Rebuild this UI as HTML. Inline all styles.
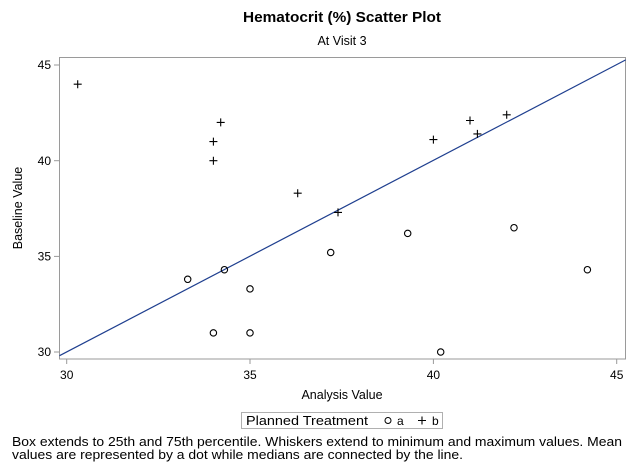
<!DOCTYPE html>
<html><head><meta charset="utf-8"><style>
body{margin:0;background:#fff;}
svg{display:block;font-family:"Liberation Sans","DejaVu Sans",sans-serif;}
</style></head><body>
<svg width="635" height="472" viewBox="0 0 635 472">
<rect width="635" height="472" fill="#fff"/>
<text x="342" y="22" font-size="14.5" text-anchor="middle" font-weight="bold" fill="#000" textLength="198" lengthAdjust="spacingAndGlyphs">Hematocrit (%) Scatter Plot</text>
<text x="342" y="45" font-size="12.5" text-anchor="middle" fill="#000">At Visit 3</text>
<rect x="59.5" y="57.5" width="566" height="301.5" fill="none" stroke="#9a9a9a" stroke-width="1"/>
<g stroke="#9a9a9a" stroke-width="1">
<line x1="54" y1="65" x2="59.5" y2="65"/><line x1="54" y1="160.7" x2="59.5" y2="160.7"/><line x1="54" y1="256.4" x2="59.5" y2="256.4"/><line x1="54" y1="352" x2="59.5" y2="352"/>
<line x1="66.7" y1="359" x2="66.7" y2="364"/><line x1="250" y1="359" x2="250" y2="364"/><line x1="433.4" y1="359" x2="433.4" y2="364"/><line x1="616.7" y1="359" x2="616.7" y2="364"/>
</g>
<g font-size="12" fill="#000" text-anchor="end">
<text x="51" y="69">45</text><text x="51" y="165">40</text><text x="51" y="260.5">35</text><text x="51" y="356">30</text>
</g>
<g font-size="12" fill="#000" text-anchor="middle">
<text x="66.7" y="379">30</text><text x="250" y="379">35</text><text x="433.4" y="379">40</text><text x="616.7" y="379">45</text>
</g>
<text x="342" y="399" font-size="12.5" text-anchor="middle" fill="#000">Analysis Value</text>
<text transform="translate(22,208) rotate(-90)" font-size="12.5" text-anchor="middle" fill="#000">Baseline Value</text>
<line x1="59.5" y1="355.7" x2="625.7" y2="59.9" stroke="#1f3f8f" stroke-width="1.2"/>
<g stroke="#000" stroke-width="1.1" fill="none">
<path d="M73.7 84.2h8M77.7 80.2v8 M209.4 141.6h8M213.4 137.6v8 M216.7 122.4h8M220.7 118.4v8 M209.4 160.7h8M213.4 156.7v8 M293.7 193.2h8M297.7 189.2v8 M334 212.4h8M338 208.4v8 M429.4 139.6h8M433.4 135.6v8 M466 120.5h8M470 116.5v8 M473.4 133.9h8M477.4 129.9v8 M502.7 114.8h8M506.7 110.8v8"/>
<circle cx="187.7" cy="279.3" r="3.2"/><circle cx="224.4" cy="269.7" r="3.2"/><circle cx="250" cy="288.9" r="3.2"/><circle cx="213.4" cy="332.9" r="3.2"/><circle cx="250" cy="332.9" r="3.2"/><circle cx="330.7" cy="252.5" r="3.2"/><circle cx="407.7" cy="233.4" r="3.2"/><circle cx="440.7" cy="352" r="3.2"/><circle cx="514" cy="227.7" r="3.2"/><circle cx="587.4" cy="269.7" r="3.2"/>
</g>
<rect x="241.5" y="412.5" width="201" height="16" fill="none" stroke="#b0b0b0" stroke-width="1"/>
<text x="246" y="425" font-size="12.5" fill="#000" textLength="122" lengthAdjust="spacingAndGlyphs">Planned Treatment</text>
<circle cx="388" cy="420.5" r="3" fill="none" stroke="#000" stroke-width="1"/>
<text x="397" y="425" font-size="12" fill="#000">a</text>
<path d="M418 420.5h8M422 416.5v8" stroke="#000" stroke-width="1.1"/>
<text x="432" y="425" font-size="12" fill="#000">b</text>
<text x="12" y="446" font-size="12.5" fill="#000" textLength="610" lengthAdjust="spacingAndGlyphs">Box extends to 25th and 75th percentile. Whiskers extend to minimum and maximum values. Mean</text>
<text x="12" y="459" font-size="12.5" fill="#000" textLength="451" lengthAdjust="spacingAndGlyphs">values are represented by a dot while medians are connected by the line.</text>
</svg>
</body></html>
